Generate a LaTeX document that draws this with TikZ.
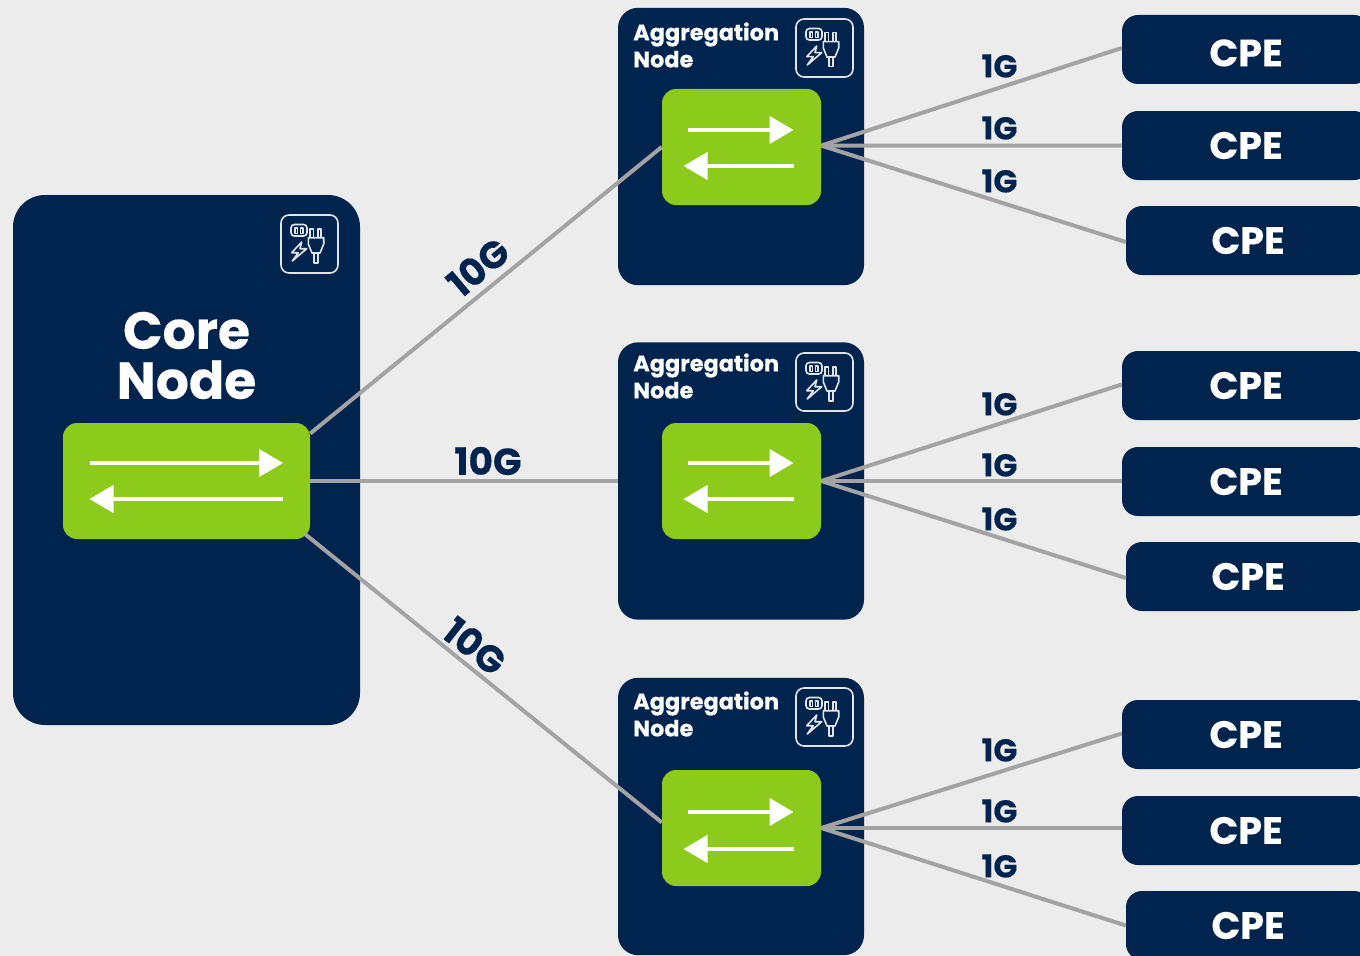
\documentclass[tikz,border=0pt]{standalone}
\usepackage{fontspec}
\setmainfont{Poppins}[BoldFeatures={FakeBold=0.25}]
\usetikzlibrary{arrows.meta,calc}
\definecolor{navy}{HTML}{01244F}
\definecolor{lime}{HTML}{8CCB1B}
\definecolor{bgc}{HTML}{ECECEC}
\definecolor{wire}{HTML}{A3A3A3}
\newcommand{\pxfont}[2]{\fontsize{\dimexpr #1pt*3/4\relax}{\dimexpr #2pt*3/4\relax}\selectfont\bfseries}
\tikzset{
  px/.style={x=0.75pt,y=-0.75pt},
  card/.style={fill=navy,draw=none,rounded corners=15pt,minimum width=184.5pt,minimum height=208pt,inner sep=0pt},
  corecard/.style={fill=navy,draw=none,rounded corners=24pt,minimum width=260.25pt,minimum height=397.5pt,inner sep=0pt},
  switchbox/.style={fill=lime,draw=none,rounded corners=10.5pt,minimum height=87pt,inner sep=0pt},
  cpebox/.style={fill=navy,draw=none,rounded corners=12pt,minimum height=51.75pt,text=white,inner sep=0pt,font=\pxfont{38}{38}},
  wireline/.style={draw=wire,line width=3pt},
  uplink/.style={text=navy,font=\pxfont{37.5}{37.5},inner sep=0pt},
  downlink/.style={text=navy,font=\pxfont{31.5}{31.5},inner sep=0pt},
  flow/.style={draw=white,line width=2.3pt,-{Triangle[length=18pt,width=20.5pt]}},
  icon/.style={draw=white!88!navy,line width=1.2pt,line join=round},
  powericon/.pic={
    \draw[icon,rounded corners=6pt] (0,0) rectangle (57,58);
    \draw[icon,rounded corners=2.5pt] (10,9.5) rectangle (26,21);
    \draw[icon] (14,13) rectangle (16.5,18.5) (19.5,13) rectangle (22,18.5);
    \draw[icon] (20.7,27) -- (10.7,37.7) -- (17.3,37.7) -- (11.3,46) -- (25.7,33.7) -- (19,33.7) -- cycle;
    \draw[icon] (29,22.7) -- (29,13.7) -- (32.3,13.7) -- (32.3,22.7) (36.7,22.7) -- (36.7,13.7) -- (40,13.7) -- (40,22.7);
    \draw[icon] (27.3,22.7) -- (42.7,22.7) -- (42.7,29) -- (39,38) -- (31,38) -- (27.3,29) -- cycle;
    \draw[icon] (33,38) -- (33,47.7) -- (37,47.7) -- (37,38);
  }
}
\begin{document}
\begin{tikzpicture}[px]
\useasboundingbox (0,0) rectangle (1360,956);
\clip (0,0) rectangle (1360,956);
\fill[bgc] (0,0) rectangle (1360,956);

% core
\node[corecard] (core) at (186.5,460) {};
\node[switchbox,minimum width=185.25pt] (coresw) at (186.5,481) {};
\node[text=white,font=\pxfont{52}{50},align=center,inner sep=0pt] (coretitle) at (186.5,355.5) {Core\\Node};
\pic at (281,215) {powericon};

% aggregation nodes
\foreach \n/\cy/\sy/\ty/\iy/\up/\dn in {1/146.5/147/45/19/-17/19, 2/481/481/376/353/-18/18, 3/816.5/828/714/688/-16/21}{
  \node[card] (agg\n) at (741,\cy) {};
  \node[switchbox,minimum width=119.25pt] (sw\n) at (741.5,\sy) {};
  \node[text=white,font=\pxfont{22.4}{27},align=left,inner sep=0pt,anchor=west] (title\n) at (633,\ty) {Aggregation\\Node};
  \pic at (796,\iy) {powericon};
  \draw[flow] ($(sw\n.center)+(-53.5,\up)$) -- ($(sw\n.center)+(52,\up)$);
  \draw[flow] ($(sw\n.center)+(52,\dn)$) -- ($(sw\n.center)+(-58,\dn)$);
}
\draw[flow] ($(coresw.center)+(-97,-18)$) -- ($(coresw.center)+(96.5,-18)$);
\draw[flow] ($(coresw.center)+(96.5,18)$) -- ($(coresw.center)+(-97,18)$);

% CPE boxes
\node[cpebox,minimum width=186pt] (cpe1a) at (1246,49.5) {\raisebox{-12.6pt}[0pt][0pt]{CPE}};
\node[cpebox,minimum width=186pt] (cpe1b) at (1246,145.5) {CPE};
\node[cpebox,minimum width=183pt] (cpe1c) at (1248,240.5) {CPE};
\node[cpebox,minimum width=186pt] (cpe2a) at (1246,385.5) {CPE};
\node[cpebox,minimum width=186pt] (cpe2b) at (1246,481.5) {CPE};
\node[cpebox,minimum width=183pt] (cpe2c) at (1248,576.5) {CPE};
\node[cpebox,minimum width=186pt] (cpe3a) at (1246,734.5) {CPE};
\node[cpebox,minimum width=186pt] (cpe3b) at (1246,830.5) {CPE};
\node[cpebox,minimum width=183pt] (cpe3c) at (1248,925.5) {CPE};

% connectors
\draw[wireline] (coresw.21.8) -- (sw1.west);
\draw[wireline] (coresw.east) -- (agg2.west);
\draw[wireline] ($(coresw.south east)+(-5,-5)$) -- (sw3.176.8);
\draw[wireline] (sw1.1) -- ($(cpe1a.west)+(0,-1.5)$);
\draw[wireline] (sw1.1) -- (cpe1b.west);
\draw[wireline] (sw1.1) -- ($(cpe1c.west)+(0,1.5)$);
\draw[wireline] (sw2.east) -- ($(cpe2a.west)+(0,-1)$);
\draw[wireline] (sw2.east) -- ($(cpe2b.west)+(0,-0.5)$);
\draw[wireline] (sw2.east) -- ($(cpe2c.west)+(0,1.5)$);
\draw[wireline] (sw3.east) -- ($(cpe3a.west)+(0,-1)$);
\draw[wireline] (sw3.east) -- ($(cpe3b.west)+(0,-2.5)$);
\draw[wireline] (sw3.east) -- (cpe3c.west);

% labels
\node[uplink,rotate=40] (up1) at (478,267) {10G};
\node[uplink] (up2) at (488,461) {10G};
\node[uplink,rotate=-38] (up3) at (475,646) {10G};
\foreach \k/\y in {a/66,b/128,c/181,d/404,e/465,f/519,g/750,h/811,i/866}{
  \node[downlink] (lab\k) at (999.5,\y) {1G};
}
\end{tikzpicture}
\end{document}
